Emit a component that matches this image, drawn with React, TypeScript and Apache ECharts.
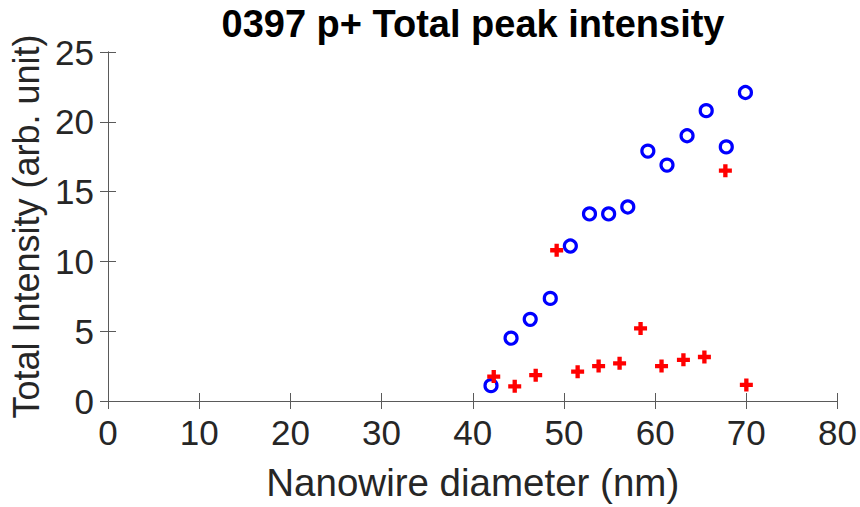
import React, { useEffect, useRef } from "react";
import * as echarts from "echarts";

const titleText = "0397 p+ Total peak intensity";
const xAxisName = "Nanowire diameter (nm)";
const yAxisName = "Total Intensity (arb. unit)";

const circleX = [42.0, 44.2, 46.3, 48.5, 50.7, 52.8, 54.9, 57.0, 59.2, 61.3, 63.5, 65.6, 67.8, 69.9];
const circleY = [1.1, 4.5, 5.85, 7.35, 11.1, 13.4, 13.4, 13.9, 17.9, 16.9, 19.0, 20.8, 18.2, 22.1];

const plusX = [42.3, 44.6, 46.9, 49.2, 51.5, 53.8, 56.1, 58.4, 60.7, 63.1, 65.4, 67.7, 70.0];
const plusY = [1.75, 1.05, 1.85, 10.8, 2.1, 2.5, 2.7, 5.2, 2.5, 2.95, 3.15, 16.5, 1.15];

const FONT = "'Liberation Sans', Arial, Helvetica, sans-serif";
const TEXT_COLOR = "#262626";
const LINE_COLOR = "#5a5a5a";

export default function App() {
  const ref = useRef<HTMLDivElement>(null);
  useEffect(() => {
    if (!ref.current) return;
    const chart = echarts.init(ref.current, undefined, { renderer: "svg" });
    const circles = circleX.map((x, i) => [x, circleY[i]]);
    const pluses = plusX.map((x, i) => [x, plusY[i]]);
    const lineStyle = { color: LINE_COLOR, width: 1 };
    chart.setOption({
      animation: false,
      backgroundColor: "#ffffff",
      textStyle: { fontFamily: FONT },
      title: {
        text: titleText,
        left: 468,
        textAlign: "center",
        top: 0,
        textStyle: { fontFamily: FONT, fontSize: 38, fontWeight: "bold", color: "#000" },
      },
      grid: { left: 108, right: 20, top: 52, bottom: 105, containLabel: false },
      xAxis: [
        {
          type: "value",
          min: 0,
          max: 80,
          interval: 10,
          position: "bottom",
          name: xAxisName,
          nameLocation: "middle",
          nameGap: 62,
          nameTextStyle: { fontFamily: FONT, fontSize: 38.5, color: TEXT_COLOR },
          axisLine: { show: true, lineStyle },
          axisTick: { show: true, inside: true, length: 8, lineStyle },
          axisLabel: { fontFamily: FONT, fontSize: 35, color: TEXT_COLOR, margin: 14 },
          splitLine: { show: false },
        },
        {
          type: "value",
          min: 0,
          max: 80,
          interval: 10,
          position: "top",
          axisLine: { show: true, lineStyle },
          axisTick: { show: true, inside: true, length: 8, lineStyle },
          axisLabel: { show: false },
          splitLine: { show: false },
        },
      ],
      yAxis: [
        {
          type: "value",
          min: 0,
          max: 25,
          interval: 5,
          position: "left",
          name: yAxisName,
          nameLocation: "middle",
          nameGap: 58,
          nameTextStyle: { fontFamily: FONT, fontSize: 36, color: TEXT_COLOR },
          axisLine: { show: true, lineStyle },
          axisTick: { show: true, inside: true, length: 8, lineStyle },
          axisLabel: { fontFamily: FONT, fontSize: 35, color: TEXT_COLOR, margin: 14 },
          splitLine: { show: false },
        },
        {
          type: "value",
          min: 0,
          max: 25,
          interval: 5,
          position: "right",
          axisLine: { show: true, lineStyle },
          axisTick: { show: true, inside: true, length: 8, lineStyle },
          axisLabel: { show: false },
          splitLine: { show: false },
        },
      ],
      series: [
        {
          type: "scatter",
          name: "circles",
          xAxisIndex: 0,
          yAxisIndex: 0,
          data: circles,
          symbol: "circle",
          symbolSize: 12,
          itemStyle: { color: "rgba(255,255,255,0)", borderColor: "#0000ff", borderWidth: 3.2, opacity: 1 },
          emphasis: { disabled: true },
        },
        {
          type: "scatter",
          name: "pluses",
          xAxisIndex: 0,
          yAxisIndex: 0,
          data: pluses,
          symbol: "path://M-1,-3H1V-1H3V1H1V3H-1V1H-3V-1H-1Z",
          symbolSize: 13,
          itemStyle: { color: "#ff0000", opacity: 1 },
          emphasis: { disabled: true },
        },
      ],
    });
    return () => chart.dispose();
  }, []);
  return (
    <div
      ref={ref}
      style={{ position: "fixed", left: 0, top: 0, width: 860, height: 507, background: "#fff" }}
    />
  );
}
